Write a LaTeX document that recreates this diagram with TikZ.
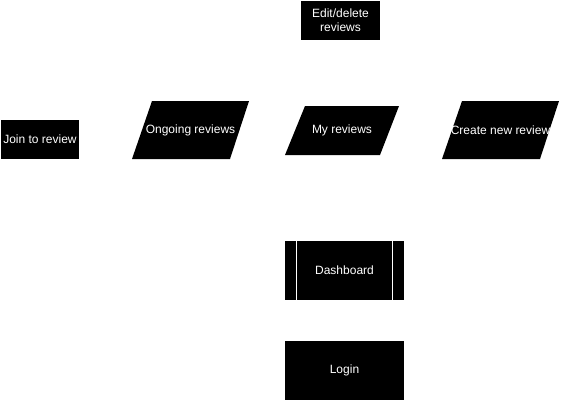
\documentclass[tikz,border=0pt]{standalone}
\usepackage{fontspec}
\setmainfont{Liberation Sans}
\begin{document}
\begin{tikzpicture}[x=1pt,y=-1pt,
  lbl/.style={text=white,font=\fontsize{12}{14}\selectfont,align=center,inner sep=0pt},
  blk/.style={fill=black,draw=none},
  proc/.style={draw=white,line width=1pt}]
\useasboundingbox (0,0) rectangle (561,401);
% Edit/delete reviews
\fill[blk] (301,1) rectangle (380,40);
\node[lbl] (edit) at (340.5,20.5) {Edit/delete\\reviews};
% Join to review
\fill[blk] (1,120) rectangle (79,159);
\node[lbl] (join) at (40,139.5) {Join to review};
% Ongoing reviews
\fill[blk] (152,101) -- (249,101) -- (230,159) -- (132,159) -- cycle;
\node[lbl] (ongoing) at (190.5,130) {Ongoing reviews};
% My reviews
\fill[blk] (305,106) -- (399,106) -- (380,155) -- (285,155) -- cycle;
\node[lbl] (my) at (342,130.5) {My reviews};
% Create new review
\fill[blk] (462,101) -- (559,101) -- (540,159) -- (442,159) -- cycle;
\node[lbl] (create) at (500.5,130) {Create new review};
% Dashboard
\fill[blk] (285,241) rectangle (404,300);
\draw[proc] (296.5,241) -- (296.5,300) (392.5,241) -- (392.5,300);
\node[lbl] (dash) at (344.5,270.5) {Dashboard};
% Login
\fill[blk] (285,341) rectangle (404,400);
\node[lbl] (login) at (344.5,370.5) {Login};
\end{tikzpicture}
\end{document}
